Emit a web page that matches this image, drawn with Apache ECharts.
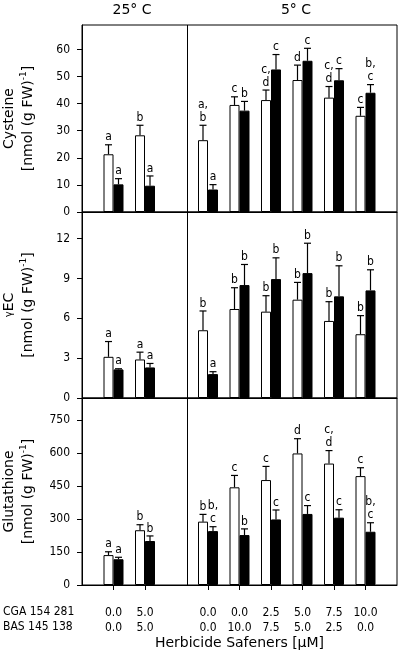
<!DOCTYPE html>
<html><head><meta charset="utf-8">
<script src="https://cdn.jsdelivr.net/npm/echarts@6/dist/echarts.min.js"></script>
<style>html,body{margin:0;padding:0;background:#fff}#c{width:400px;height:657px}</style>
</head><body><div id="c"></div>
<script>
// ---------- data ----------
const temperatures = ['25° C', '5° C'];
const groupsPerTemp = [2, 6];
const cga = ['0.0', '5.0', '0.0', '0.0', '2.5', '5.0', '7.5', '10.0'];
const bas = ['0.0', '5.0', '0.0', '10.0', '7.5', '5.0', '2.5', '0.0'];
const cgaName = 'CGA 154 281';
const basName = 'BAS 145 138';
const xTitle = 'Herbicide Safeners [µM]';

// Cysteine [nmol (g FW)^-1]
const cysWhite = [21.3, 28.3, 26.5, 39.5, 41.3, 48.7, 42.2, 35.5];
const cysWhiteErr = [3.5, 3.7, 5.5, 3.0, 3.7, 5.5, 4.1, 3.1];
const cysBlack = [10.2, 9.7, 8.3, 37.4, 52.6, 55.8, 48.6, 44.0];
const cysBlackErr = [2.1, 3.6, 1.8, 3.4, 5.5, 4.6, 4.3, 3.0];
const cysWhiteLetters = ['a', 'b', 'a,\nb', 'c', 'c,\nd', 'd', 'c,\nd', 'c'];
const cysBlackLetters = ['a', 'a', 'a', 'b', 'c', 'c', 'c', 'b,\nc'];
const cysTicks = [0, 10, 20, 30, 40, 50, 60];

// gamma-EC
const gecWhite = [3.1, 2.9, 5.1, 6.7, 6.5, 7.4, 5.8, 4.8];
const gecWhiteErr = [1.15, 0.55, 1.45, 1.6, 1.2, 1.3, 1.45, 1.4];
const gecBlack = [2.15, 2.3, 1.8, 8.5, 8.95, 9.4, 7.65, 8.1];
const gecBlackErr = [0.05, 0.3, 0.18, 1.55, 1.6, 2.25, 2.3, 1.55];
const gecWhiteLetters = ['a', 'a', 'b', 'b', 'b', 'b', 'b', 'b'];
const gecBlackLetters = ['a', 'a', 'a', 'b', 'b', 'b', 'b', 'b'];
const gecTicks = [0, 3, 6, 9, 12];

// Glutathione
const gshWhite = [136, 249, 288, 444, 477, 598, 552, 495];
const gshWhiteErr = [15, 25, 33, 54, 62, 67, 59, 38];
const gshBlack = [117, 200, 245, 227, 298, 323, 306, 242];
const gshBlackErr = [9, 23, 20, 28, 43, 38, 36, 41];
const gshWhiteLetters = ['a', 'b', 'b', 'c', 'c', 'd', 'c,\nd', 'c'];
const gshBlackLetters = ['a', 'b', 'b,\nc', 'b', 'c', 'c', 'c', 'b,\nc'];
const gshTicks = [0, 150, 300, 450, 600, 750];

// ---------- layout / style ----------
const FONT = '"DejaVu Sans", Verdana, sans-serif';
const FONT_N = '"DejaVu Sans Condensed", "Liberation Sans", sans-serif';
const X_MAX = 10;
const DIVIDER = 10 / 3;
const xPos = i => (i < groupsPerTemp[0] ? i + 1 : i + 2);
const groupX = cga.map((_, i) => xPos(i));
const HALF = 5;

const rows = [
  { name: '{t|Cysteine}\n{t|[nmol (g FW)}{s|-1}{t|]}', max: 69, ticks: cysTicks,
    w: cysWhite, we: cysWhiteErr, b: cysBlack, be: cysBlackErr, wl: cysWhiteLetters, bl: cysBlackLetters },
  { name: '{g|γ}{t|EC}\n{t|[nmol (g FW)}{s|-1}{t|]}', max: 14, ticks: gecTicks,
    w: gecWhite, we: gecWhiteErr, b: gecBlack, be: gecBlackErr, wl: gecWhiteLetters, bl: gecBlackLetters },
  { name: '{t|Glutathione}\n{t|[nmol (g FW)}{s|-1}{t|]}', max: 850, ticks: gshTicks,
    w: gshWhite, we: gshWhiteErr, b: gshBlack, be: gshBlackErr, wl: gshWhiteLetters, bl: gshBlackLetters }
];
const gridPos = [{ top: 25, height: 187 }, { top: 212, height: 186 }, { top: 398, height: 187 }];

const grid = gridPos.map(g => ({ left: 82, right: 3, top: g.top, height: g.height, show: true,
  containLabel: false, outerBoundsMode: 'none',
  borderColor: '#000', borderWidth: 1, backgroundColor: 'transparent' }));

const xAxis = rows.map((r, k) => {
  const last = k === rows.length - 1;
  return {
    type: 'value', gridIndex: k, min: 0, max: X_MAX,
    splitLine: { show: false },
    axisLine: { show: true, lineStyle: { color: '#000', width: 1 } },
    axisTick: { show: last, inside: false, length: 5, customValues: groupX, lineStyle: { color: '#000' } },
    axisLabel: { show: last, customValues: groupX, margin: 20, color: '#000', fontSize: 12, fontFamily: FONT_N,
      lineHeight: 15,
      formatter: v => { const i = groupX.indexOf(v); return i < 0 ? '' : cga[i] + '\n' + bas[i]; } },
    name: last ? xTitle : '', nameLocation: 'middle', nameGap: 51,
    nameTextStyle: { color: '#000', fontSize: 14, fontFamily: FONT }
  };
});

const yAxis = rows.map((r, k) => ({
  type: 'value', gridIndex: k, min: 0, max: r.max,
  splitLine: { show: false },
  axisLine: { show: true, lineStyle: { color: '#000', width: 1 } },
  axisTick: { show: true, length: 5, customValues: r.ticks, lineStyle: { color: '#000' } },
  axisLabel: { customValues: r.ticks, margin: 12, color: '#000', fontSize: 12, fontFamily: FONT_N },
  name: r.name, nameLocation: 'middle', nameGap: 44, nameRotate: 90,
  nameTextStyle: { color: '#000', rich: {
    t: { fontSize: 14, fontFamily: FONT, lineHeight: 19, color: '#000' },
    s: { fontSize: 9, fontFamily: FONT, lineHeight: 19, verticalAlign: 'top', color: '#000' },
    g: { fontSize: 10, fontFamily: FONT, lineHeight: 19, verticalAlign: 'middle', color: '#000' }
  } }
}));

function errSeries(k, vals, errs, letters, side, withDivider) {
  const s = {
    type: 'custom', xAxisIndex: k, yAxisIndex: k, z: 5, silent: true,
    data: vals.map((v, i) => [groupX[i], v, errs[i]]),
    renderItem: (params, api) => {
      const x = api.value(0), v = api.value(1), e = api.value(2);
      const p = api.coord([x, v]);
      const t = api.coord([x, v + e]);
      const cx = p[0] + side * HALF;
      return { type: 'group', children: [
        { type: 'line', shape: { x1: cx, y1: p[1], x2: cx, y2: t[1] }, style: { stroke: '#000', lineWidth: 1.2 } },
        { type: 'line', shape: { x1: cx - 3.5, y1: t[1], x2: cx + 3.5, y2: t[1] }, style: { stroke: '#000', lineWidth: 1.2 } },
        { type: 'text', x: cx, y: t[1] - 1, style: { text: letters[params.dataIndex], fill: '#000',
          font: '12px ' + FONT_N, align: 'center', verticalAlign: 'bottom', textAlign: 'center',
          textVerticalAlign: 'bottom', lineHeight: 13 } }
      ] };
    }
  };
  if (withDivider) {
    s.markLine = { silent: true, symbol: ['none', 'none'], label: { show: false }, animation: false,
      lineStyle: { color: '#000', type: 'solid', width: 1 }, data: [{ xAxis: DIVIDER }] };
  }
  return s;
}

const series = [];
rows.forEach((r, k) => {
  series.push({
    type: 'bar', xAxisIndex: k, yAxisIndex: k, barWidth: 10, barGap: '0%',
    data: r.w.map((v, i) => [groupX[i], v]),
    itemStyle: { color: '#fff', borderColor: '#000', borderWidth: 1 }
  });
  series.push({
    type: 'bar', xAxisIndex: k, yAxisIndex: k, barWidth: 10, barGap: '0%',
    data: r.b.map((v, i) => [groupX[i], v]),
    itemStyle: { color: '#000', borderColor: '#000', borderWidth: 1 }
  });
  series.push(errSeries(k, r.w, r.we, r.wl, -1, true));
  series.push(errSeries(k, r.b, r.be, r.bl, 1, false));
});

const txt = (x, y, text, font, align) => ({ type: 'text', x, y, silent: true,
  style: { text, font, fill: '#000', align, verticalAlign: 'middle', textAlign: align, textVerticalAlign: 'middle' } });

const option = {
  animation: false,
  backgroundColor: '#fff',
  grid, xAxis, yAxis, series,
  graphic: [
    txt(132, 10, temperatures[0], '14px ' + FONT, 'center'),
    txt(296, 10, temperatures[1], '14px ' + FONT, 'center'),
    txt(3, 612, cgaName, '12px ' + FONT_N, 'left'),
    txt(3, 627, basName, '12px ' + FONT_N, 'left')
  ]
};
const chart = echarts.init(document.getElementById('c'), null, { renderer: 'canvas' });
chart.setOption(option);
</script></body></html>
